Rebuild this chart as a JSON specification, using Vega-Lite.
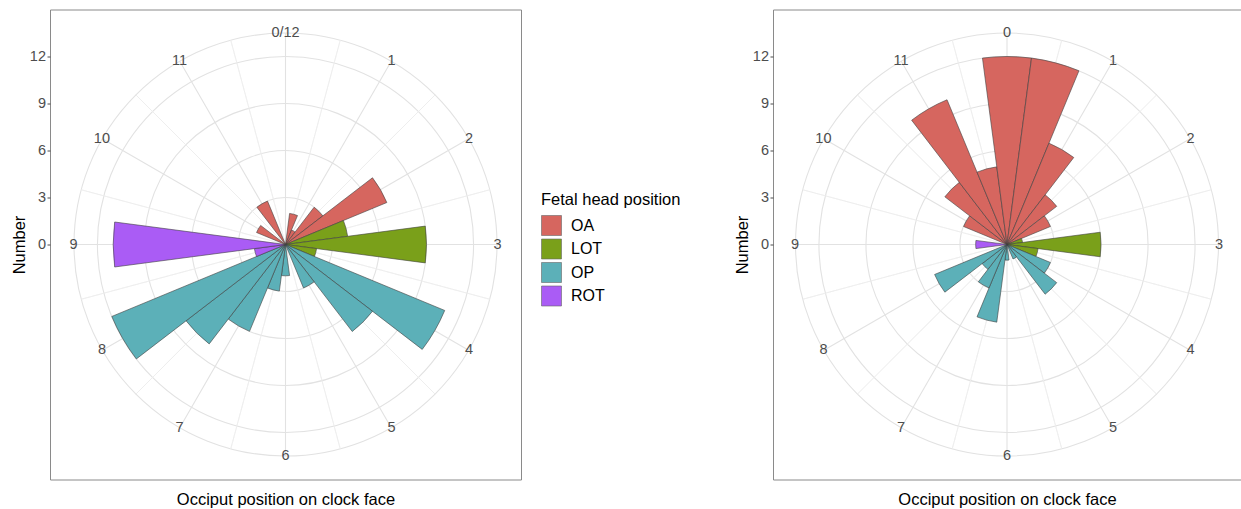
{
  "$schema": "https://vega.github.io/schema/vega-lite/v6.json",
  "background": "white",
  "padding": {"left": 10, "top": 8.5, "right": 0, "bottom": 0},
  "bounds": "flush",
  "spacing": 252,
  "datasets": {
    "rings": [{"r": 3}, {"r": 6}, {"r": 9}, {"r": 12}, {"r": 13.5}],
    "majorSpokes": [{"h": 0}, {"h": 1}, {"h": 2}, {"h": 3}, {"h": 4}, {"h": 5}, {"h": 6}, {"h": 7}, {"h": 8}, {"h": 9}, {"h": 10}, {"h": 11}],
    "minorSpokes": [{"h": 0.5}, {"h": 1.5}, {"h": 2.5}, {"h": 3.5}, {"h": 4.5}, {"h": 5.5}, {"h": 6.5}, {"h": 7.5}, {"h": 8.5}, {"h": 9.5}, {"h": 10.5}, {"h": 11.5}],
    "labelsL": [{"h": 0, "label": "0/12"}, {"h": 1, "label": "1"}, {"h": 2, "label": "2"}, {"h": 3, "label": "3"}, {"h": 4, "label": "4"}, {"h": 5, "label": "5"}, {"h": 6, "label": "6"}, {"h": 7, "label": "7"}, {"h": 8, "label": "8"}, {"h": 9, "label": "9"}, {"h": 10, "label": "10"}, {"h": 11, "label": "11"}],
    "labelsR": [{"h": 0, "label": "0"}, {"h": 1, "label": "1"}, {"h": 2, "label": "2"}, {"h": 3, "label": "3"}, {"h": 4, "label": "4"}, {"h": 5, "label": "5"}, {"h": 6, "label": "6"}, {"h": 7, "label": "7"}, {"h": 8, "label": "8"}, {"h": 9, "label": "9"}, {"h": 10, "label": "10"}, {"h": 11, "label": "11"}],
    "barsL": [
      {"hour": 10.0, "start": 9.75, "end": 10.25, "n": 2, "position": "OA"},
      {"hour": 11.0, "start": 10.75, "end": 11.25, "n": 3, "position": "OA"},
      {"hour": 0.5, "start": 0.25, "end": 0.75, "n": 2, "position": "OA"},
      {"hour": 1.0, "start": 0.75, "end": 1.25, "n": 1, "position": "OA"},
      {"hour": 1.5, "start": 1.25, "end": 1.75, "n": 3, "position": "OA"},
      {"hour": 2.0, "start": 1.75, "end": 2.25, "n": 7, "position": "OA"},
      {"hour": 2.5, "start": 2.25, "end": 2.75, "n": 4, "position": "LOT"},
      {"hour": 3.0, "start": 2.75, "end": 3.25, "n": 9, "position": "LOT"},
      {"hour": 3.5, "start": 3.25, "end": 3.75, "n": 2, "position": "LOT"},
      {"hour": 4.0, "start": 3.75, "end": 4.25, "n": 11, "position": "OP"},
      {"hour": 4.5, "start": 4.25, "end": 4.75, "n": 7, "position": "OP"},
      {"hour": 5.0, "start": 4.75, "end": 5.25, "n": 3, "position": "OP"},
      {"hour": 6.0, "start": 5.75, "end": 6.25, "n": 2, "position": "OP"},
      {"hour": 6.5, "start": 6.25, "end": 6.75, "n": 3, "position": "OP"},
      {"hour": 7.0, "start": 6.75, "end": 7.25, "n": 6, "position": "OP"},
      {"hour": 7.5, "start": 7.25, "end": 7.75, "n": 8, "position": "OP"},
      {"hour": 8.0, "start": 7.75, "end": 8.25, "n": 12, "position": "OP"},
      {"hour": 8.5, "start": 8.25, "end": 8.75, "n": 2, "position": "ROT"},
      {"hour": 9.0, "start": 8.75, "end": 9.25, "n": 11, "position": "ROT"}
    ],
    "barsR": [
      {"hour": 10.0, "start": 9.75, "end": 10.25, "n": 3, "position": "OA"},
      {"hour": 10.5, "start": 10.25, "end": 10.75, "n": 5, "position": "OA"},
      {"hour": 11.0, "start": 10.75, "end": 11.25, "n": 10, "position": "OA"},
      {"hour": 11.5, "start": 11.25, "end": 11.75, "n": 5, "position": "OA"},
      {"hour": 0.0, "start": -0.25, "end": 0.25, "n": 12, "position": "OA"},
      {"hour": 0.5, "start": 0.25, "end": 0.75, "n": 12, "position": "OA"},
      {"hour": 1.0, "start": 0.75, "end": 1.25, "n": 7, "position": "OA"},
      {"hour": 1.5, "start": 1.25, "end": 1.75, "n": 4, "position": "OA"},
      {"hour": 2.0, "start": 1.75, "end": 2.25, "n": 3, "position": "OA"},
      {"hour": 2.5, "start": 2.25, "end": 2.75, "n": 1, "position": "LOT"},
      {"hour": 3.0, "start": 2.75, "end": 3.25, "n": 6, "position": "LOT"},
      {"hour": 3.5, "start": 3.25, "end": 3.75, "n": 2, "position": "LOT"},
      {"hour": 4.0, "start": 3.75, "end": 4.25, "n": 3, "position": "OP"},
      {"hour": 4.5, "start": 4.25, "end": 4.75, "n": 4, "position": "OP"},
      {"hour": 5.0, "start": 4.75, "end": 5.25, "n": 1, "position": "OP"},
      {"hour": 6.0, "start": 5.75, "end": 6.25, "n": 1, "position": "OP"},
      {"hour": 6.5, "start": 6.25, "end": 6.75, "n": 5, "position": "OP"},
      {"hour": 7.0, "start": 6.75, "end": 7.25, "n": 3, "position": "OP"},
      {"hour": 7.5, "start": 7.25, "end": 7.75, "n": 2, "position": "OP"},
      {"hour": 8.0, "start": 7.75, "end": 8.25, "n": 5, "position": "OP"},
      {"hour": 9.0, "start": 8.75, "end": 9.25, "n": 2, "position": "ROT"}
    ]
  },
  "config": {
    "font": "Liberation Sans",
    "view": {"stroke": "#8a8a8a", "strokeWidth": 1},
    "axis": {
      "grid": false,
      "domain": false,
      "labelFont": "Liberation Sans",
      "labelFontSize": 14.5,
      "labelColor": "#4d4d4d",
      "tickColor": "#4d4d4d",
      "tickSize": 3,
      "labelPadding": 1.5,
      "titleFont": "Liberation Sans",
      "titleFontSize": 16.5,
      "titleFontWeight": "normal",
      "titleColor": "#000000"
    },
    "legend": {
      "titleFont": "Liberation Sans",
      "titleFontSize": 16.5,
      "titleFontWeight": "normal",
      "titleColor": "#000000",
      "labelFont": "Liberation Sans",
      "labelFontSize": 16,
      "labelColor": "#000000",
      "symbolType": "square",
      "symbolSize": 400,
      "symbolStrokeColor": "#666666",
      "symbolStrokeWidth": 0.6,
      "symbolOpacity": 1,
      "rowPadding": 0.5,
      "labelOffset": 9,
      "titlePadding": 7,
      "padding": 0
    }
  },
  "resolve": {"scale": {"color": "independent"}, "legend": {"color": "independent"}},
  "hconcat": [
    {
      "width": 471,
      "height": 470,
      "layer": [
        {
          "data": {"values": [{"v": 0}]},
          "mark": {"type": "point", "opacity": 0},
          "encoding": {
            "x": {"field": "v", "type": "quantitative", "scale": {"domain": [-15, 15], "nice": false, "zero": false},
                  "axis": {"title": "Occiput position on clock face", "labels": false, "ticks": false, "domain": false, "grid": false, "titlePadding": 12}},
            "y": {"field": "v", "type": "quantitative", "scale": {"domain": [-15, 15], "nice": false, "zero": false},
                  "axis": {"title": "Number", "values": [0, 3, 6, 9, 12], "titlePadding": 2}}
          }
        },
        {
          "data": {"name": "rings"},
          "mark": {"type": "arc", "filled": false, "stroke": "#e2e2e2", "strokeWidth": 1.1, "theta": 0, "theta2": 6.29},
          "encoding": {
            "radius": {"field": "r", "type": "quantitative", "stack": null, "scale": {"type": "linear", "domain": [0, 12], "range": [0, 188], "zero": true, "nice": false}}
          }
        },
        {
          "data": {"name": "majorSpokes"},
          "mark": {"type": "arc", "filled": false, "stroke": "#e2e2e2", "strokeWidth": 1.1},
          "encoding": {
            "theta": {"field": "h", "type": "quantitative", "stack": null, "scale": {"domain": [0, 12], "range": [0, 6.283185307179586], "nice": false, "zero": false}},
            "theta2": {"field": "h"},
            "radius": {"datum": 13.5, "type": "quantitative", "stack": null, "scale": {"type": "linear", "domain": [0, 12], "range": [0, 188], "zero": true, "nice": false}}
          }
        },
        {
          "data": {"name": "minorSpokes"},
          "mark": {"type": "arc", "filled": false, "stroke": "#ededed", "strokeWidth": 0.7},
          "encoding": {
            "theta": {"field": "h", "type": "quantitative", "stack": null, "scale": {"domain": [0, 12], "range": [0, 6.283185307179586], "nice": false, "zero": false}},
            "theta2": {"field": "h"},
            "radius": {"datum": 13.5, "type": "quantitative", "stack": null, "scale": {"type": "linear", "domain": [0, 12], "range": [0, 188], "zero": true, "nice": false}}
          }
        },
        {
          "data": {"name": "barsL"},
          "mark": {"type": "arc", "stroke": "#3f3f3f", "strokeWidth": 0.6, "opacity": 1},
          "encoding": {
            "theta": {"field": "start", "type": "quantitative", "stack": null, "scale": {"domain": [0, 12], "range": [0, 6.283185307179586], "nice": false, "zero": false}},
            "theta2": {"field": "end"},
            "radius": {"field": "n", "type": "quantitative", "stack": null, "scale": {"type": "linear", "domain": [0, 12], "range": [0, 188], "zero": true, "nice": false}},
            "color": {"field": "position", "type": "nominal",
                      "scale": {"domain": ["OA", "LOT", "OP", "ROT"], "range": ["#D6665F", "#7AA01A", "#5CB0B8", "#AA5CF5"]},
                      "legend": {"title": "Fetal head position", "orient": "none", "legendX": 491, "legendY": 182}}
          }
        },
        {
          "data": {"name": "labelsL"},
          "mark": {"type": "text", "fontSize": 14.5, "color": "#4d4d4d", "align": "center", "baseline": "middle"},
          "encoding": {
            "theta": {"field": "h", "type": "quantitative", "stack": null, "scale": {"domain": [0, 12], "range": [0, 6.283185307179586], "nice": false, "zero": false}},
            "radius": {"datum": 13.53, "type": "quantitative", "stack": null, "scale": {"type": "linear", "domain": [0, 12], "range": [0, 188], "zero": true, "nice": false}},
            "text": {"field": "label", "type": "nominal"}
          }
        }
      ]
    },
    {
      "width": 468,
      "height": 470,
      "layer": [
        {
          "data": {"values": [{"v": 0}]},
          "mark": {"type": "point", "opacity": 0},
          "encoding": {
            "x": {"field": "v", "type": "quantitative", "scale": {"domain": [-15, 15], "nice": false, "zero": false},
                  "axis": {"title": "Occiput position on clock face", "labels": false, "ticks": false, "domain": false, "grid": false, "titlePadding": 12}},
            "y": {"field": "v", "type": "quantitative", "scale": {"domain": [-15, 15], "nice": false, "zero": false},
                  "axis": {"title": "Number", "values": [0, 3, 6, 9, 12], "titlePadding": 2}}
          }
        },
        {
          "data": {"name": "rings"},
          "mark": {"type": "arc", "filled": false, "stroke": "#e2e2e2", "strokeWidth": 1.1, "theta": 0, "theta2": 6.29},
          "encoding": {
            "radius": {"field": "r", "type": "quantitative", "stack": null, "scale": {"type": "linear", "domain": [0, 12], "range": [0, 188], "zero": true, "nice": false}}
          }
        },
        {
          "data": {"name": "majorSpokes"},
          "mark": {"type": "arc", "filled": false, "stroke": "#e2e2e2", "strokeWidth": 1.1},
          "encoding": {
            "theta": {"field": "h", "type": "quantitative", "stack": null, "scale": {"domain": [0, 12], "range": [0, 6.283185307179586], "nice": false, "zero": false}},
            "theta2": {"field": "h"},
            "radius": {"datum": 13.5, "type": "quantitative", "stack": null, "scale": {"type": "linear", "domain": [0, 12], "range": [0, 188], "zero": true, "nice": false}}
          }
        },
        {
          "data": {"name": "minorSpokes"},
          "mark": {"type": "arc", "filled": false, "stroke": "#ededed", "strokeWidth": 0.7},
          "encoding": {
            "theta": {"field": "h", "type": "quantitative", "stack": null, "scale": {"domain": [0, 12], "range": [0, 6.283185307179586], "nice": false, "zero": false}},
            "theta2": {"field": "h"},
            "radius": {"datum": 13.5, "type": "quantitative", "stack": null, "scale": {"type": "linear", "domain": [0, 12], "range": [0, 188], "zero": true, "nice": false}}
          }
        },
        {
          "data": {"name": "barsR"},
          "mark": {"type": "arc", "stroke": "#3f3f3f", "strokeWidth": 0.6, "opacity": 1},
          "encoding": {
            "theta": {"field": "start", "type": "quantitative", "stack": null, "scale": {"domain": [0, 12], "range": [0, 6.283185307179586], "nice": false, "zero": false}},
            "theta2": {"field": "end"},
            "radius": {"field": "n", "type": "quantitative", "stack": null, "scale": {"type": "linear", "domain": [0, 12], "range": [0, 188], "zero": true, "nice": false}},
            "color": {"field": "position", "type": "nominal",
                      "scale": {"domain": ["OA", "LOT", "OP", "ROT"], "range": ["#D6665F", "#7AA01A", "#5CB0B8", "#AA5CF5"]},
                      "legend": null}
          }
        },
        {
          "data": {"name": "labelsR"},
          "mark": {"type": "text", "fontSize": 14.5, "color": "#4d4d4d", "align": "center", "baseline": "middle"},
          "encoding": {
            "theta": {"field": "h", "type": "quantitative", "stack": null, "scale": {"domain": [0, 12], "range": [0, 6.283185307179586], "nice": false, "zero": false}},
            "radius": {"datum": 13.53, "type": "quantitative", "stack": null, "scale": {"type": "linear", "domain": [0, 12], "range": [0, 188], "zero": true, "nice": false}},
            "text": {"field": "label", "type": "nominal"}
          }
        }
      ]
    }
  ]
}
